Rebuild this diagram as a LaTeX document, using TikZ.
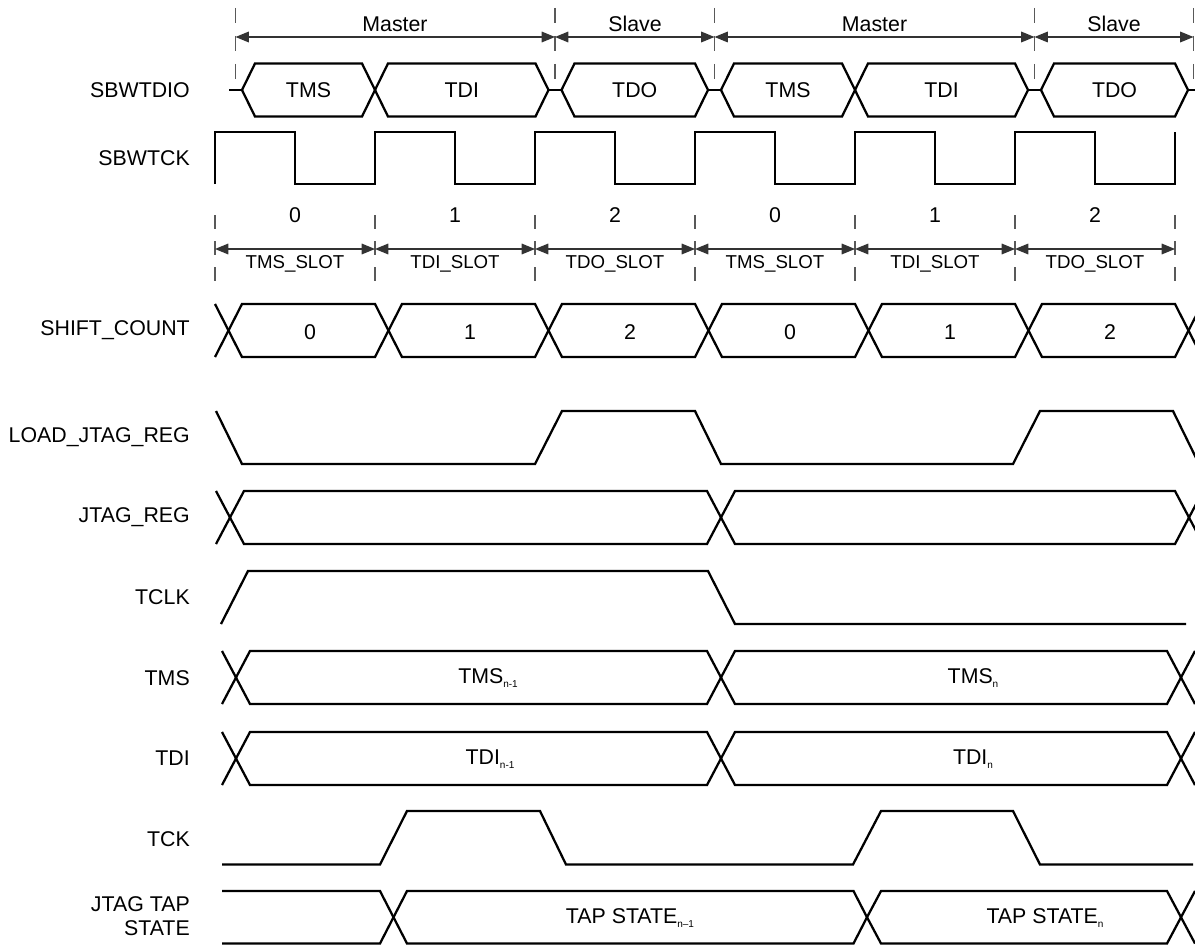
\documentclass[tikz,border=0pt]{standalone}
\usepackage{fontspec}
\setmainfont{Liberation Sans}
\usetikzlibrary{arrows.meta}
\newcommand\hexbus[6]{% a b top bot mid half
  \draw[sig] (#1,#5) -- ({#1+#6},#3) -- ({#2-#6},#3) -- (#2,#5) -- ({#2-#6},#4) -- ({#1+#6},#4) -- cycle;}
\newcommand\lowsub[1]{\raisebox{-2.5pt}{\fontsize{7.5}{8}\selectfont #1}}
\begin{document}
\begin{tikzpicture}[x=0.75pt,y=-0.75pt,
  sig/.style={line width=1.7pt,line join=miter,line cap=butt},
  dimline/.style={line width=0.9pt,draw=black!80},
  dimarr/.style={dimline,{Triangle[length=10pt,width=8pt]}-{Triangle[length=10pt,width=8pt]}},
  guide/.style={line width=0.9pt,draw=black!65,dash pattern=on 11.25pt off 9.75pt},
  sguide/.style={line width=0.9pt,draw=black!65,dash pattern=on 10.5pt off 9pt},
  lbl/.style={anchor=east,font=\fontsize{16}{18}\selectfont,inner sep=0pt},
  txt/.style={font=\fontsize{16}{18}\selectfont,inner sep=0pt},
  stxt/.style={font=\fontsize{14}{15}\selectfont,inner sep=0pt},
]
\useasboundingbox (0,0) rectangle (1195,945);
\clip (0,0) rectangle (1195,945);

% signal names
\node[lbl] (lSBWTDIO) at (190,90) {SBWTDIO};
\node[lbl] (lSBWTCK) at (190,158) {SBWTCK};
\node[lbl] (lSHIFT) at (190,330) {SHIFT\_COUNT};
\node[lbl] (lLOAD) at (190,437) {LOAD\_JTAG\_REG};
\node[lbl] (lJREG) at (190,517) {JTAG\_REG};
\node[lbl] (lTCLK) at (190,597) {TCLK};
\node[lbl] (lTMS) at (190,678) {TMS};
\node[lbl] (lTDI) at (190,758) {TDI};
\node[lbl] (lTCK) at (190,839) {TCK};
\node[lbl,align=right] (lTAP) at (190,916) {JTAG TAP\\STATE};

% top phase guides and arrows
\foreach \x in {235.5,555,714.5,1034.5,1193.5} \draw[guide] (\x,8) -- (\x,82);
\coordinate (g0) at (235.5,37);
\coordinate (g1) at (555,37);
\coordinate (g2) at (714.5,37);
\coordinate (g3) at (1034.5,37);
\coordinate (g4) at (1193.5,37);
\draw[dimarr] (g0) -- (g1);
\draw[dimarr] (g1) -- (g2);
\draw[dimarr] (g2) -- (g3);
\draw[dimarr] (g3) -- (g4);
\node[txt] (mast1) at (395,24) {Master};
\node[txt] (slv1) at (635,24) {Slave};
\node[txt] (mast2) at (874.5,24) {Master};
\node[txt] (slv2) at (1114,24) {Slave};

% SBWTDIO
\foreach \a/\b in {229/242,548.5/561.5,708/721,1028/1041,1188/1200}
  \draw[sig] (\a,90) -- (\b,90);
\hexbus{242}{375}{63.5}{116.5}{90}{13}
\hexbus{375}{548.5}{63.5}{116.5}{90}{13}
\hexbus{561.5}{708}{63.5}{116.5}{90}{13}
\hexbus{721}{855}{63.5}{116.5}{90}{13}
\hexbus{855}{1028}{63.5}{116.5}{90}{13}
\hexbus{1041}{1188}{63.5}{116.5}{90}{13}
\node[txt] (d1) at (308.5,90) {TMS};
\node[txt] (d2) at (461.75,90) {TDI};
\node[txt] (d3) at (634.75,90) {TDO};
\node[txt] (d4) at (788,90) {TMS};
\node[txt] (d5) at (941.5,90) {TDI};
\node[txt] (d6) at (1114.5,90) {TDO};

% SBWTCK
\draw[sig] (215,184) \foreach \k in {0,...,5}{ -- ({215+160*\k},132) -- ({295+160*\k},132) -- ({295+160*\k},184) -- ({375+160*\k},184)} -- (1175,132);

% slots
\foreach \x in {215,375,535,695,855,1015,1175} \draw[sguide] (\x,215) -- (\x,281);
\foreach \i/\x in {0/215,1/375,2/535,3/695,4/855,5/1015,6/1175} \coordinate (s\i) at (\x,249);
\draw[dimarr] (s0) -- (s1);
\draw[dimarr] (s1) -- (s2);
\draw[dimarr] (s2) -- (s3);
\draw[dimarr] (s3) -- (s4);
\draw[dimarr] (s4) -- (s5);
\draw[dimarr] (s5) -- (s6);
\node[txt] (n0) at (295,215) {0};
\node[txt] (n1) at (455,215) {1};
\node[txt] (n2) at (615,215) {2};
\node[txt] (n3) at (775,215) {0};
\node[txt] (n4) at (935,215) {1};
\node[txt] (n5) at (1095,215) {2};
\node[stxt] (t0) at (295,264) {TMS\_SLOT};
\node[stxt] (t1) at (455,264) {TDI\_SLOT};
\node[stxt] (t2) at (615,264) {TDO\_SLOT};
\node[stxt] (t3) at (775,264) {TMS\_SLOT};
\node[stxt] (t4) at (935,264) {TDI\_SLOT};
\node[stxt] (t5) at (1095,264) {TDO\_SLOT};

% SHIFT_COUNT
\draw[sig] (215,304) -- (228.5,330.5) -- (215,357);
\foreach \k in {0,...,5}{\hexbus{228.5+160*\k}{388.5+160*\k}{304}{357}{330.5}{13.5}}
\draw[sig] (1202,304) -- (1188.5,330.5) -- (1202,357);
\node[txt] (c0) at (310,332) {0};
\node[txt] (c1) at (470,332) {1};
\node[txt] (c2) at (630,332) {2};
\node[txt] (c3) at (790,332) {0};
\node[txt] (c4) at (950,332) {1};
\node[txt] (c5) at (1110,332) {2};

% LOAD_JTAG_REG
\draw[sig] (216,411) -- (242,464) -- (535,464) -- (562,411) -- (695,411) -- (721,464) -- (1013,464) -- (1040,411) -- (1173,411) -- (1199,464);

% JTAG_REG
\draw[sig] (216,491) -- (230,517.5) -- (216,544);
\hexbus{230}{721}{491}{544}{517.5}{14}
\hexbus{721}{1189}{491}{544}{517.5}{14}
\draw[sig] (1203,491) -- (1189,517.5) -- (1203,544);

% TCLK
\draw[sig] (221,624) -- (248,571) -- (708,571) -- (735,624) -- (1186,624);

% TMS
\draw[sig] (222,651) -- (236,677.5) -- (222,704);
\hexbus{236}{721}{651}{704}{677.5}{14}
\hexbus{721}{1181}{651}{704}{677.5}{14}
\draw[sig] (1195,651) -- (1181,677.5) -- (1195,704);
\node[txt] (tmsA) at (488,678) {TMS\lowsub{n-1}};
\node[txt] (tmsB) at (973,678) {TMS\lowsub{n}};

% TDI
\draw[sig] (222,732) -- (236,758.5) -- (222,785);
\hexbus{236}{721}{732}{785}{758.5}{14}
\hexbus{721}{1181}{732}{785}{758.5}{14}
\draw[sig] (1195,732) -- (1181,758.5) -- (1195,785);
\node[txt] (tdiA) at (490,759) {TDI\lowsub{n-1}};
\node[txt] (tdiB) at (973,759) {TDI\lowsub{n}};

% TCK
\draw[sig] (222,864.5) -- (380,864.5) -- (407,811) -- (540,811) -- (566,864.5) -- (853,864.5) -- (881,811) -- (1013,811) -- (1040,864.5) -- (1193,864.5);

% JTAG TAP STATE
\draw[sig] (222,891) -- (380,891) -- (393.5,917.25) -- (380,943.5) -- (222,943.5);
\hexbus{393.5}{867}{891}{943.5}{917.25}{13.5}
\hexbus{867}{1181}{891}{943.5}{917.25}{14}
\draw[sig] (1195,891) -- (1181,917.25) -- (1195,943.5);
\node[txt] (tapA) at (630,918) {TAP STATE\lowsub{n–1}};
\node[txt] (tapB) at (1045,918) {TAP STATE\lowsub{n}};
\end{tikzpicture}
\end{document}
